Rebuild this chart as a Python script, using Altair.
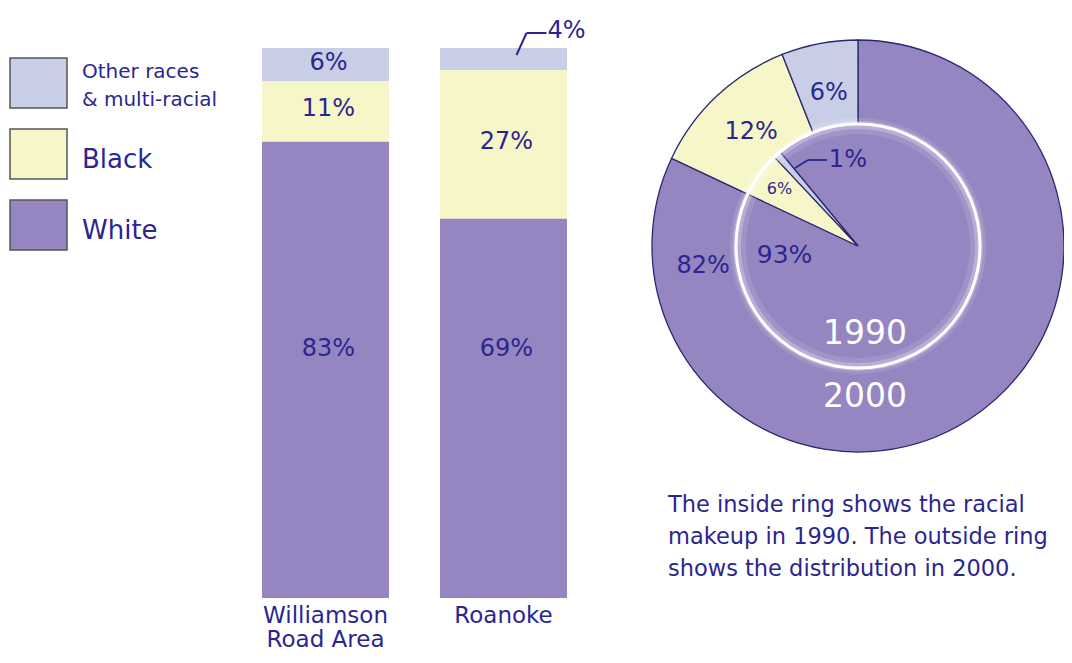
import math
import altair as alt
import pandas as pd

# ---------------- data ----------------
races = ["White", "Black", "Other races & multi-racial"]
legend_labels = ["White", "Black", "Other races\n& multi-racial"]
colors = ["#9585c1", "#f6f6c8", "#c8cee6"]

areas = ["Williamson\nRoad Area", "Roanoke"]
williamson = [83, 11, 6]
roanoke = [69, 27, 4]

years = ["1990", "2000"]
ring_1990 = [93, 6, 1]
ring_2000 = [82, 12, 6]

caption_lines = [
    "The inside ring shows the racial",
    "makeup in 1990. The outside ring",
    "shows the distribution in 2000.",
]

# ---------------- styles ----------------
FONT = "DejaVu Sans"
NAVY = "#2b268f"
LINE = "#2b2870"
CX, CY = 850, 238          # donut centre (layout)
R_OUT, R_IN = 206, 122     # donut radii (layout)

# ---------------- tables ----------------
bar_rows = []
for area, vals in zip(areas, [williamson, roanoke]):
    for i, (r, v) in enumerate(zip(races, vals)):
        bar_rows.append(dict(area=area, race=r, order=i, value=v, label=f"{v}%"))
bar_df = pd.DataFrame(bar_rows)

ring_rows = []
for yr, vals in zip(years, [ring_1990, ring_2000]):
    for i, (r, v) in enumerate(zip(races, vals)):
        ring_rows.append(dict(year=yr, race=r, order=i, value=v, label=f"{v}%"))
ring_df = pd.DataFrame(ring_rows)
# inner ring rotated so that its Black slice starts where the outer one does
rot_1990 = (ring_2000[0] - ring_1990[0]) / 100.0

legend_df = pd.DataFrame(dict(race=races, label=legend_labels, order=list(range(len(races)))))
area_df = pd.DataFrame(dict(area=areas))
year_df = pd.DataFrame(dict(year=years))
one = pd.DataFrame(dict(k=[0]))

# ---------------- scales ----------------
color_scale = alt.Scale(domain=races, range=colors)
x_scale = alt.Scale(type="band", domain=areas, range=[254, 559], paddingInner=0.2865, paddingOuter=0)
y_scale = alt.Scale(domain=[0, 100], range=[590, 40], nice=False)
bx = alt.X("area:N", scale=x_scale, axis=None)

# ---------------- legend ----------------
leg_y = alt.Y("race:N", scale=alt.Scale(type="band", domain=races[::-1], range=[50, 242],
                                         paddingInner=0.296, paddingOuter=0), axis=None)
legend_boxes = alt.Chart(legend_df).mark_rect(stroke="#555555", strokeWidth=1.5).encode(
    x=alt.value(2), x2=alt.value(59), y=leg_y,
    color=alt.Color("race:N", scale=color_scale, legend=None),
)
legend_text_big = alt.Chart(legend_df).transform_filter("datum.order != 2").mark_text(
    font=FONT, fontSize=26, color=NAVY, align="left", baseline="middle", dy=6
).encode(x=alt.value(74), y=leg_y, text="label:N")
legend_text_small = alt.Chart(legend_df).transform_filter("datum.order == 2").mark_text(
    font=FONT, fontSize=20, color=NAVY, align="left", baseline="middle",
    lineBreak="\n", lineHeight=28, dy=-11
).encode(x=alt.value(74), y=leg_y, text="label:N")

# ---------------- stacked bars ----------------
bars = alt.Chart(bar_df).mark_bar().encode(
    x=bx,
    y=alt.Y("value:Q", stack="zero", scale=y_scale, axis=None),
    color=alt.Color("race:N", scale=color_scale, legend=None),
    order=alt.Order("order:Q", sort="ascending"),
)

stacked = alt.Chart(bar_df).transform_stack(
    stack="value", groupby=["area"], sort=[alt.SortField("order", order="ascending")],
    as_=["y0", "y1"],
).transform_calculate(mid="max((datum.y0 + datum.y1) / 2, 45)")

bar_labels = stacked.transform_filter("datum.value >= 5").mark_text(
    font=FONT, fontSize=24, color=NAVY, baseline="middle", dx=3, dy=-2
).encode(x=bx, y=alt.Y("mid:Q", scale=y_scale, axis=None), text="label:N")

small = stacked.transform_filter("datum.value < 5")
lead1 = small.mark_rule(color=NAVY, strokeWidth=2, xOffset=13, x2Offset=23,
                        yOffset=-4, y2Offset=-15).encode(
    x=alt.X("area:N", scale=x_scale, axis=None, bandPosition=0.5),
    x2=alt.X2("area:N", bandPosition=0.5),
    y=alt.Y("mid:Q", scale=y_scale, axis=None), y2="y1:Q",
)
lead2 = small.mark_rule(color=NAVY, strokeWidth=2, xOffset=23, x2Offset=43, yOffset=-15).encode(
    x=alt.X("area:N", scale=x_scale, axis=None, bandPosition=0.5),
    x2=alt.X2("area:N", bandPosition=0.5),
    y=alt.Y("y1:Q", scale=y_scale, axis=None),
)
small_label = small.mark_text(font=FONT, fontSize=24, color=NAVY, align="left",
                              baseline="middle", dx=44, dy=-17).encode(
    x=alt.X("area:N", scale=x_scale, axis=None, bandPosition=0.5),
    y=alt.Y("y1:Q", scale=y_scale, axis=None), text="label:N")

area_labels = alt.Chart(area_df).mark_text(
    font=FONT, fontSize=23, color=NAVY, baseline="top", lineBreak="\n", lineHeight=24
).encode(x=alt.X("area:N", scale=x_scale, axis=None, bandPosition=0.5),
         y=alt.value(597), text="area:N")

# ---------------- donut ----------------
ring = alt.Chart(ring_df).transform_window(
    cum="sum(value)", frame=[None, 0], sort=[alt.SortField("order")], groupby=["year"]
).transform_calculate(
    rot=f"datum.year == '1990' ? {rot_1990} : 0"
).transform_calculate(
    s="(datum.cum - datum.value) / 100 + datum.rot",
    e="datum.cum / 100 + datum.rot",
).transform_calculate(
    t0="datum.s * 2 * PI",
    t1="datum.e * 2 * PI",
    mid="(datum.s + datum.e) * PI",
    lab="max((datum.s + datum.e) / 2, datum.e - 0.09) * 2 * PI",
)

arc_enc = dict(
    theta=alt.Theta("t0:Q", scale=None, stack=False),
    theta2=alt.Theta2("t1:Q"),
    x=alt.value(CX), y=alt.value(CY),
    color=alt.Color("race:N", scale=color_scale, legend=None),
)
outer = ring.transform_filter("datum.year == '2000'").mark_arc(
    stroke=LINE, strokeWidth=1.3, radius=R_OUT, radius2=R_IN).encode(**arc_enc)
inner = ring.transform_filter("datum.year == '1990'").mark_arc(
    stroke=LINE, strokeWidth=1.2, radius=R_IN, radius2=0).encode(**arc_enc)

glow1 = alt.Chart(one).mark_arc(color="white", opacity=0.12, theta=0, theta2=2 * math.pi,
                               radius=R_IN + 6, radius2=R_IN - 10).encode(x=alt.value(CX), y=alt.value(CY))
glow2 = alt.Chart(one).mark_arc(color="white", opacity=0.25, theta=0, theta2=2 * math.pi,
                               radius=R_IN + 3, radius2=R_IN - 5).encode(x=alt.value(CX), y=alt.value(CY))
white_ring = alt.Chart(one).mark_arc(color="white", theta=0, theta2=2 * math.pi,
                                    radius=R_IN + 1.5, radius2=R_IN - 1.5).encode(x=alt.value(CX), y=alt.value(CY))

outer_labels = ring.transform_filter("datum.year == '2000'").mark_text(
    font=FONT, fontSize=24, color=NAVY, baseline="middle").encode(
    theta=alt.Theta("lab:Q", scale=None, stack=False), radius=alt.value(156),
    x=alt.value(CX), y=alt.value(CY), text="label:N")
inner_white = ring.transform_filter("datum.year == '1990' && datum.order == 0").mark_text(
    font=FONT, fontSize=25, color=NAVY, baseline="middle").encode(
    theta=alt.Theta("lab:Q", scale=None, stack=False), radius=alt.value(74),
    x=alt.value(CX), y=alt.value(CY), text="label:N")
inner_black = ring.transform_filter("datum.year == '1990' && datum.order == 1").mark_text(
    font=FONT, fontSize=16, color=NAVY, baseline="middle").encode(
    theta=alt.Theta("mid:Q", scale=None, stack=False), radius=alt.value(97),
    x=alt.value(CX), y=alt.value(CY), text="label:N")
inner_other = ring.transform_filter("datum.year == '1990' && datum.order == 2").mark_text(
    font=FONT, fontSize=24, color=NAVY, baseline="middle", align="left", dx=37, dy=-11).encode(
    theta=alt.Theta("mid:Q", scale=None, stack=False), radius=alt.value(100),
    x=alt.value(CX), y=alt.value(CY), text="label:N")
lead3 = alt.Chart(one).mark_rule(color=NAVY, strokeWidth=1.8).encode(
    x=alt.value(787), y=alt.value(160), x2=alt.value(800), y2=alt.value(152))
lead4 = alt.Chart(one).mark_rule(color=NAVY, strokeWidth=1.8).encode(
    x=alt.value(800), y=alt.value(152), x2=alt.value(819), y2=alt.value(152))

year_labels = alt.Chart(year_df).mark_text(
    font=FONT, fontSize=33, color="white", baseline="middle").encode(
    x=alt.value(857),
    y=alt.Y("year:N", scale=alt.Scale(type="point", domain=years, range=[326, 389], padding=0), axis=None),
    text="year:N")

caption = alt.Chart(pd.DataFrame(dict(t=["\n".join(caption_lines)]))).mark_text(
    font=FONT, fontSize=22.5, color=NAVY, align="left", baseline="top", lineBreak="\n", lineHeight=32
).encode(x=alt.value(660), y=alt.value(486), text="t:N")

chart = alt.layer(
    legend_boxes, legend_text_big, legend_text_small,
    bars, bar_labels, lead1, lead2, small_label, area_labels,
    outer, inner, glow1, glow2, white_ring,
    outer_labels, inner_white, inner_black, inner_other, lead3, lead4,
    year_labels, caption,
).resolve_scale(
    x="independent", y="independent"
).properties(
    width=1056, height=647, autosize=alt.AutoSizeParams(type="none"), padding=0
).configure_view(stroke=None)

chart.save("out.html", embed_options={"renderer": "svg", "actions": False})
